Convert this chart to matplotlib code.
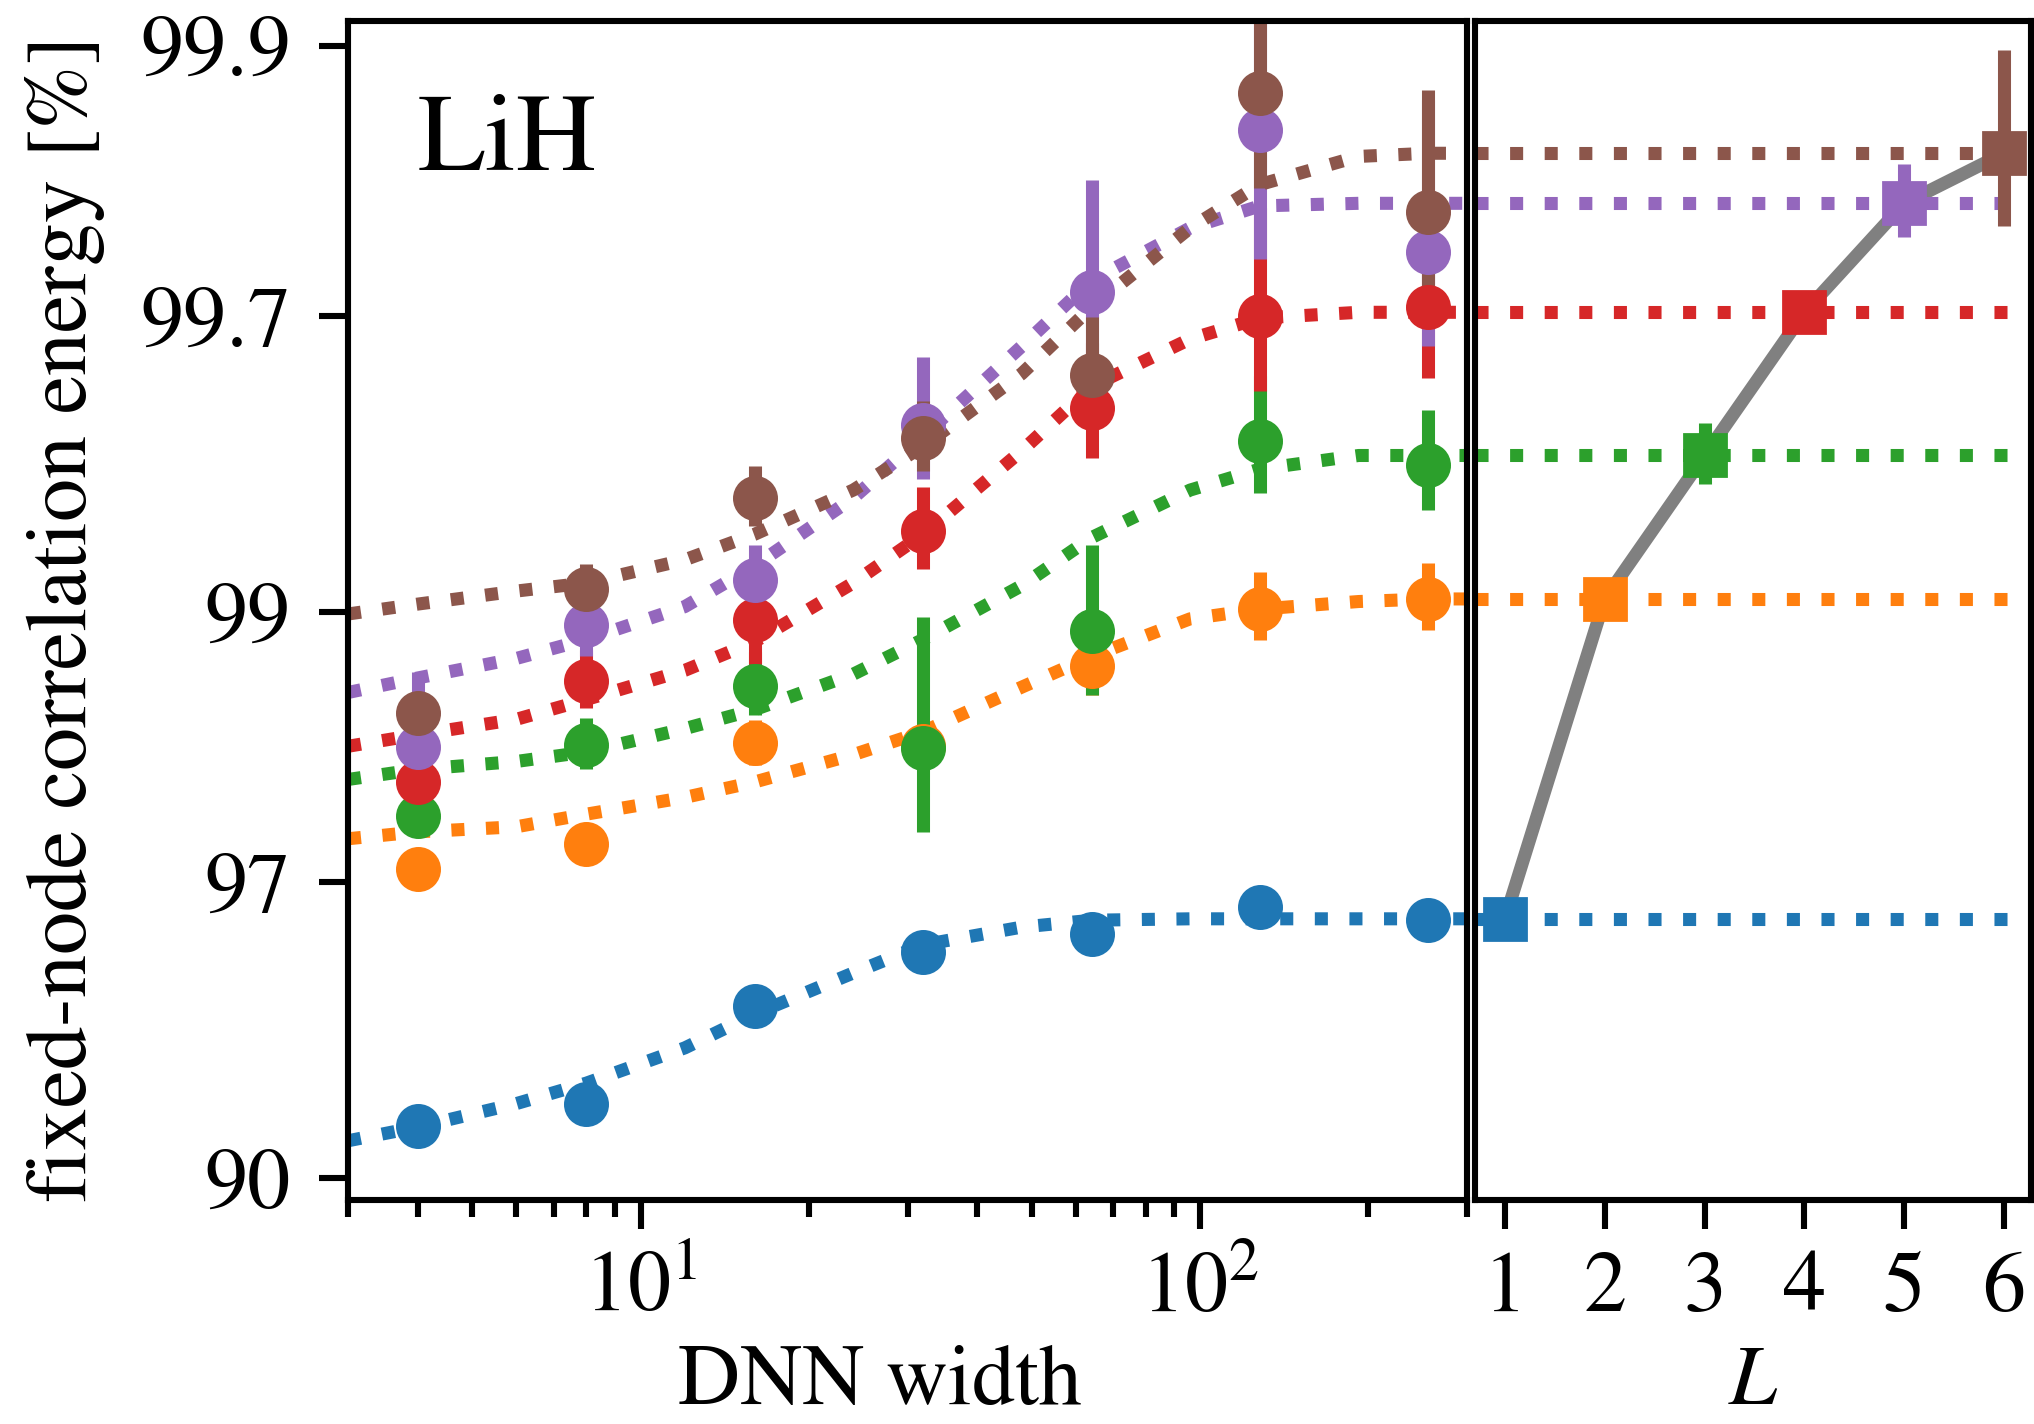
import numpy as np
import matplotlib
matplotlib.use('Agg')
import matplotlib.pyplot as plt
from matplotlib.ticker import FixedLocator, FixedFormatter, NullFormatter

plt.rcParams['font.family'] = 'STIXGeneral'
plt.rcParams['mathtext.fontset'] = 'stix'

# DNN widths of the measured points
widths = [4, 8, 16, 32, 64, 128, 256]
# fixed-node correlation energy [%] for each depth L, one list per L
corr_L1 = [91.89, 92.59, 95.02, 96.01, 96.29, 96.68, 96.49]
corr_L2 = [97.15, 97.425, 98.29, 98.27, 98.753, 99.012, 99.05]
corr_L3 = [97.70, 98.28, 98.649, 98.261, 98.918, 99.50, 99.449]
corr_L4 = [98.00, 98.674, 98.964, 99.278, 99.564, 99.699, 99.71]
corr_L5 = [98.267, 98.944, 99.119, 99.531, 99.728, 99.859, 99.768]
corr_L6 = [98.487, 99.087, 99.37, 99.5055, 99.6185, 99.8786, 99.803]
# error bars of the points
err_L1 = [0.05, 0.05, 0.05, 0.05, 0.05, 0.05, 0.05]
err_L2 = [0.05, 0.05, 0.155, 0.05, 0.16, 0.135, 0.13]
err_L3 = [0.05, 0.18, 0.17, 0.715, 0.32, 0.117, 0.11]
err_L4 = [0.05, 0.155, 0.2, 0.12, 0.10, 0.107, 0.097]
err_L5 = [0.456, 0.14, 0.118, 0.114, 0.099, 0.097, 0.107]
err_L6 = [0.08, 0.089, 0.077, 0.07, 0.08, 0.057, 0.077]

# fitted curves, read at these widths
fit_w = [3, 4, 6, 8, 12, 16, 24, 32, 48, 64, 96, 128, 192, 256, 300]
fit_L1 = [91.39, 91.86, 92.60, 93.19, 94.10, 94.86, 95.65, 96.12, 96.39, 96.49, 96.51, 96.51, 96.51, 96.51, 96.51]
fit_L2 = [97.48, 97.55, 97.60, 97.72, 97.87, 98.00, 98.21, 98.37, 98.64, 98.80, 98.97, 99.01, 99.04, 99.05, 99.05]
fit_L3 = [98.02, 98.10, 98.16, 98.23, 98.39, 98.51, 98.71, 98.88, 99.10, 99.26, 99.39, 99.44, 99.47, 99.47, 99.47]
fit_L4 = [98.27, 98.35, 98.45, 98.57, 98.73, 98.87, 99.11, 99.27, 99.48, 99.60, 99.67, 99.697, 99.704, 99.704, 99.704]
fit_L5 = [98.61, 98.69, 98.79, 98.88, 99.02, 99.17, 99.37, 99.51, 99.66, 99.74, 99.79, 99.808, 99.81, 99.81, 99.81]
fit_L6 = [98.99, 99.03, 99.08, 99.11, 99.19, 99.27, 99.39, 99.49, 99.62, 99.71, 99.79, 99.824, 99.843, 99.845, 99.845]

# extrapolated (infinite width) value vs depth L
depths = [1, 2, 3, 4, 5, 6]
corr_inf = [96.51, 99.05, 99.47, 99.704, 99.81, 99.845]
err_inf = [0.03, 0.02, 0.065, 0.015, 0.028, 0.053]

yticks = [90, 97, 99, 99.7, 99.9]
ytick_labels = ['90', '97', '99', '99.7', '99.9']

corr = [corr_L1, corr_L2, corr_L3, corr_L4, corr_L5, corr_L6]
errs = [err_L1, err_L2, err_L3, err_L4, err_L5, err_L6]
fits = [fit_L1, fit_L2, fit_L3, fit_L4, fit_L5, fit_L6]
cycle = plt.rcParams['axes.prop_cycle'].by_key()['color']


def fwd(v):
    return -np.log10(np.clip(100.0 - np.asarray(v, dtype=float), 1e-9, None))


def inv(t):
    return 100.0 - 10.0 ** (-np.asarray(t, dtype=float))


W, H = 2034, 1424
fig = plt.figure(figsize=(W / 200, H / 200), dpi=200)
bot, top = 1200, 21
ax = fig.add_axes([348 / W, 1 - bot / H, (1467 - 348) / W, (bot - top) / H])
ax2 = fig.add_axes([1475 / W, 1 - bot / H, (2031 - 1475) / W, (bot - top) / H])

lw = 4.7      # dotted / error bar width
ms = 15.2     # marker size
fs = 31       # font size

for i in range(6):
    ax.errorbar(widths, corr[i], yerr=errs[i], fmt='o', color=cycle[i],
                ms=ms, elinewidth=lw, capsize=0)
    ax.plot(fit_w, fits[i], ':', color=cycle[i], lw=lw)

ax2.plot(depths, corr_inf, '-', color='gray', lw=lw, zorder=1.5)
for i in range(6):
    ax2.axhline(corr_inf[i], ls=':', color=cycle[i], lw=lw, zorder=1.6)
    ax2.errorbar(depths[i], corr_inf[i], yerr=err_inf[i], fmt='s', color=cycle[i],
                 ms=ms, elinewidth=lw, capsize=0)

for a in (ax, ax2):
    a.set_yscale('function', functions=(fwd, inv))
    a.set_ylim(89.045, 99.9095)
    for s in a.spines.values():
        s.set_linewidth(2.2)
    a.tick_params(which='major', direction='out', length=10.5, width=2.2,
                  labelsize=fs)
    a.tick_params(which='minor', direction='out', length=6.2, width=2.2)

ax.set_xscale('log')
ax.set_xlim(3, 300)
ax.yaxis.set_major_locator(FixedLocator(yticks))
ax.yaxis.set_major_formatter(FixedFormatter(ytick_labels))
ax.yaxis.set_minor_formatter(NullFormatter())
ax.yaxis.set_minor_locator(FixedLocator([]))
ax.tick_params(axis='y', pad=10)
ax.tick_params(axis='x', pad=8)
ax.set_xlabel('DNN width', fontsize=fs)
ax.xaxis.set_label_coords(0.475, -0.123)
ax.set_ylabel(r'fixed-node correlation energy [$\%$]', fontsize=fs)
ax.yaxis.set_label_coords(-0.215, 0.49)
ax.text(0.062, 0.874, 'LiH', transform=ax.transAxes, fontsize=40,
        ha='left', va='baseline')

ax2.set_xlim(0.7, 6.27)
ax2.set_xticks(depths)
ax2.yaxis.set_major_locator(FixedLocator([]))
ax2.yaxis.set_minor_locator(FixedLocator([]))
ax2.tick_params(axis='y', left=False, labelleft=False)
ax2.tick_params(axis='x', pad=8)
ax2.set_xlabel('$L$', fontsize=fs)
ax2.xaxis.set_label_coords(0.5, -0.123)

fig.savefig('out.png', dpi=200)
